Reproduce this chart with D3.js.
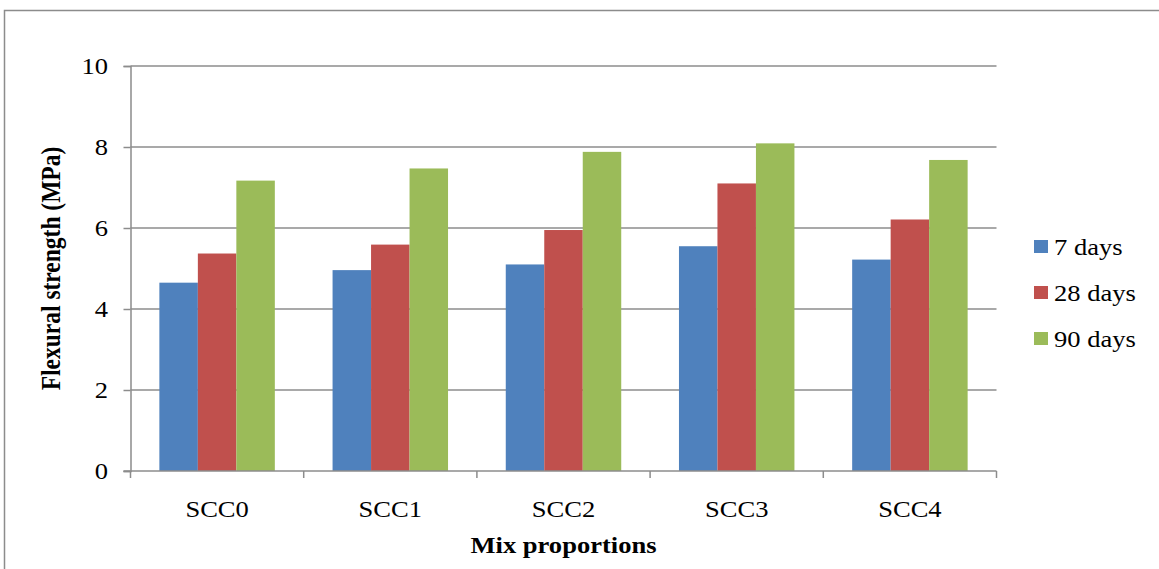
<!DOCTYPE html>
<html>
<head>
<meta charset="utf-8">
<script src="https://cdn.jsdelivr.net/npm/d3@7"></script>
<style>
  html, body { margin: 0; padding: 0; background: #fff; }
  svg text { font-family: "Liberation Serif", "Times New Roman", serif; fill: #000; }
</style>
</head>
<body>
<svg width="1159" height="569"></svg>
<script>
// Mix proportions on the x axis
var mixes = ["SCC0", "SCC1", "SCC2", "SCC3", "SCC4"];
var series = ["7 days", "28 days", "90 days"];
var seriesColors = ["#4F81BD", "#C0504D", "#9BBB59"];

// flexural strength values (MPa)
var days7  = [4.65, 4.96, 5.10, 5.55, 5.22];
var days28 = [5.37, 5.59, 5.95, 7.10, 6.21];
var days90 = [7.17, 7.47, 7.88, 8.09, 7.68];
var yTicks = [0, 2, 4, 6, 8, 10];

var values = [days7, days28, days90];

var svg = d3.select('svg');
var FS = 23.5;        // font size
var SX = 1.13;        // the original picture is a bit stretched sideways

// put a text at (px,py), stretched horizontally like the source image
function addText(parent, px, py, str, anchor, bold) {
  var t = parent.append('g')
    .attr('transform', 'translate(' + px + ',' + py + ') scale(' + SX + ',1)')
    .append('text')
    .attr('text-anchor', anchor || 'start')
    .attr('font-size', FS)
    .text(str);
  if (bold) t.attr('font-weight', 'bold');
  return t;
}

// outer chart border (runs off the right and bottom of the picture)
svg.append('rect')
  .attr('x', 4.5).attr('y', 10.5)
  .attr('width', 1200).attr('height', 600)
  .attr('fill', 'none')
  .attr('stroke', '#8c8c8c')
  .attr('stroke-width', 1.5);

var plotLeft = 130.5, plotRight = 996.5, plotTop = 66, plotBottom = 471;

var x = d3.scaleBand().domain(mixes).range([plotLeft, plotRight]);
var xInner = d3.scaleBand().domain(series).range([0, x.bandwidth()]).paddingOuter(0.75);
var y = d3.scaleLinear().domain([0, 10]).range([plotBottom, plotTop]);

var g = svg.append('g');

// horizontal gridlines
g.selectAll('line.grid')
  .data(yTicks.filter(function(d){ return d > 0; }))
  .enter().append('line')
  .classed('grid', true)
  .attr('x1', plotLeft).attr('x2', plotRight)
  .attr('y1', function(d){ return y(d); })
  .attr('y2', function(d){ return y(d); })
  .attr('stroke', '#8c8c8c')
  .attr('stroke-width', 1.3);

// bars
series.forEach(function(s, si) {
  g.selectAll('rect.s' + si)
    .data(values[si])
    .enter().append('rect')
    .attr('class', 's' + si)
    .attr('x', function(d, i){ return x(mixes[i]) + xInner(s); })
    .attr('y', function(d){ return y(d); })
    .attr('width', xInner.bandwidth())
    .attr('height', function(d){ return y(0) - y(d); })
    .attr('fill', seriesColors[si]);
});

// y axis
var yAxis = d3.axisLeft(y).tickValues(yTicks).tickSize(7).tickPadding(8);
var ya = svg.append('g').attr('transform', 'translate(' + plotLeft + ',0)').call(yAxis);
ya.select('.domain').attr('stroke', '#8c8c8c').attr('stroke-width', 1.5);
ya.selectAll('.tick line').attr('stroke', '#8c8c8c').attr('stroke-width', 1.5);
ya.selectAll('.tick text')
  .attr('x', 0)
  .attr('dy', '0.33em')
  .attr('transform', 'translate(-22.5,0) scale(' + SX + ',1)')
  .attr('font-family', '"Liberation Serif", serif')
  .attr('font-size', FS).attr('fill', '#000');

// x axis: ticks at category boundaries, labels centred
var xa = svg.append('g').attr('transform', 'translate(0,' + plotBottom + ')');
xa.append('line')
  .attr('x1', plotLeft - 7).attr('x2', plotRight)
  .attr('stroke', '#8c8c8c').attr('stroke-width', 1.5);
xa.selectAll('line.tk')
  .data(mixes.concat(['end']))
  .enter().append('line')
  .classed('tk', true)
  .attr('x1', function(d){ return d === 'end' ? plotRight : x(d); })
  .attr('x2', function(d){ return d === 'end' ? plotRight : x(d); })
  .attr('y1', 0).attr('y2', 7)
  .attr('stroke', '#8c8c8c').attr('stroke-width', 1.5);
mixes.forEach(function(m) {
  addText(xa, x(m) + x.bandwidth() / 2, 46, m, 'middle');
});

// axis titles
addText(svg, (plotLeft + plotRight) / 2, 553, 'Mix proportions', 'middle', true);

svg.append('g')
  .attr('transform', 'translate(59.5,' + (plotTop + plotBottom) / 2 + ') scale(' + SX + ',1) rotate(-90)')
  .append('text')
  .attr('text-anchor', 'middle')
  .attr('font-size', FS).attr('font-weight', 'bold')
  .text('Flexural strength (MPa)');

// legend
var lg = svg.append('g').attr('transform', 'translate(1034,246.5)');
series.forEach(function(s, i) {
  var row = lg.append('g').attr('transform', 'translate(0,' + i * 46 + ')');
  row.append('rect')
    .attr('x', 0).attr('y', -6.5)
    .attr('width', 14).attr('height', 13)
    .attr('fill', seriesColors[i]);
  addText(row, 20, 8.5, s, 'start');
});
</script>
</body>
</html>
